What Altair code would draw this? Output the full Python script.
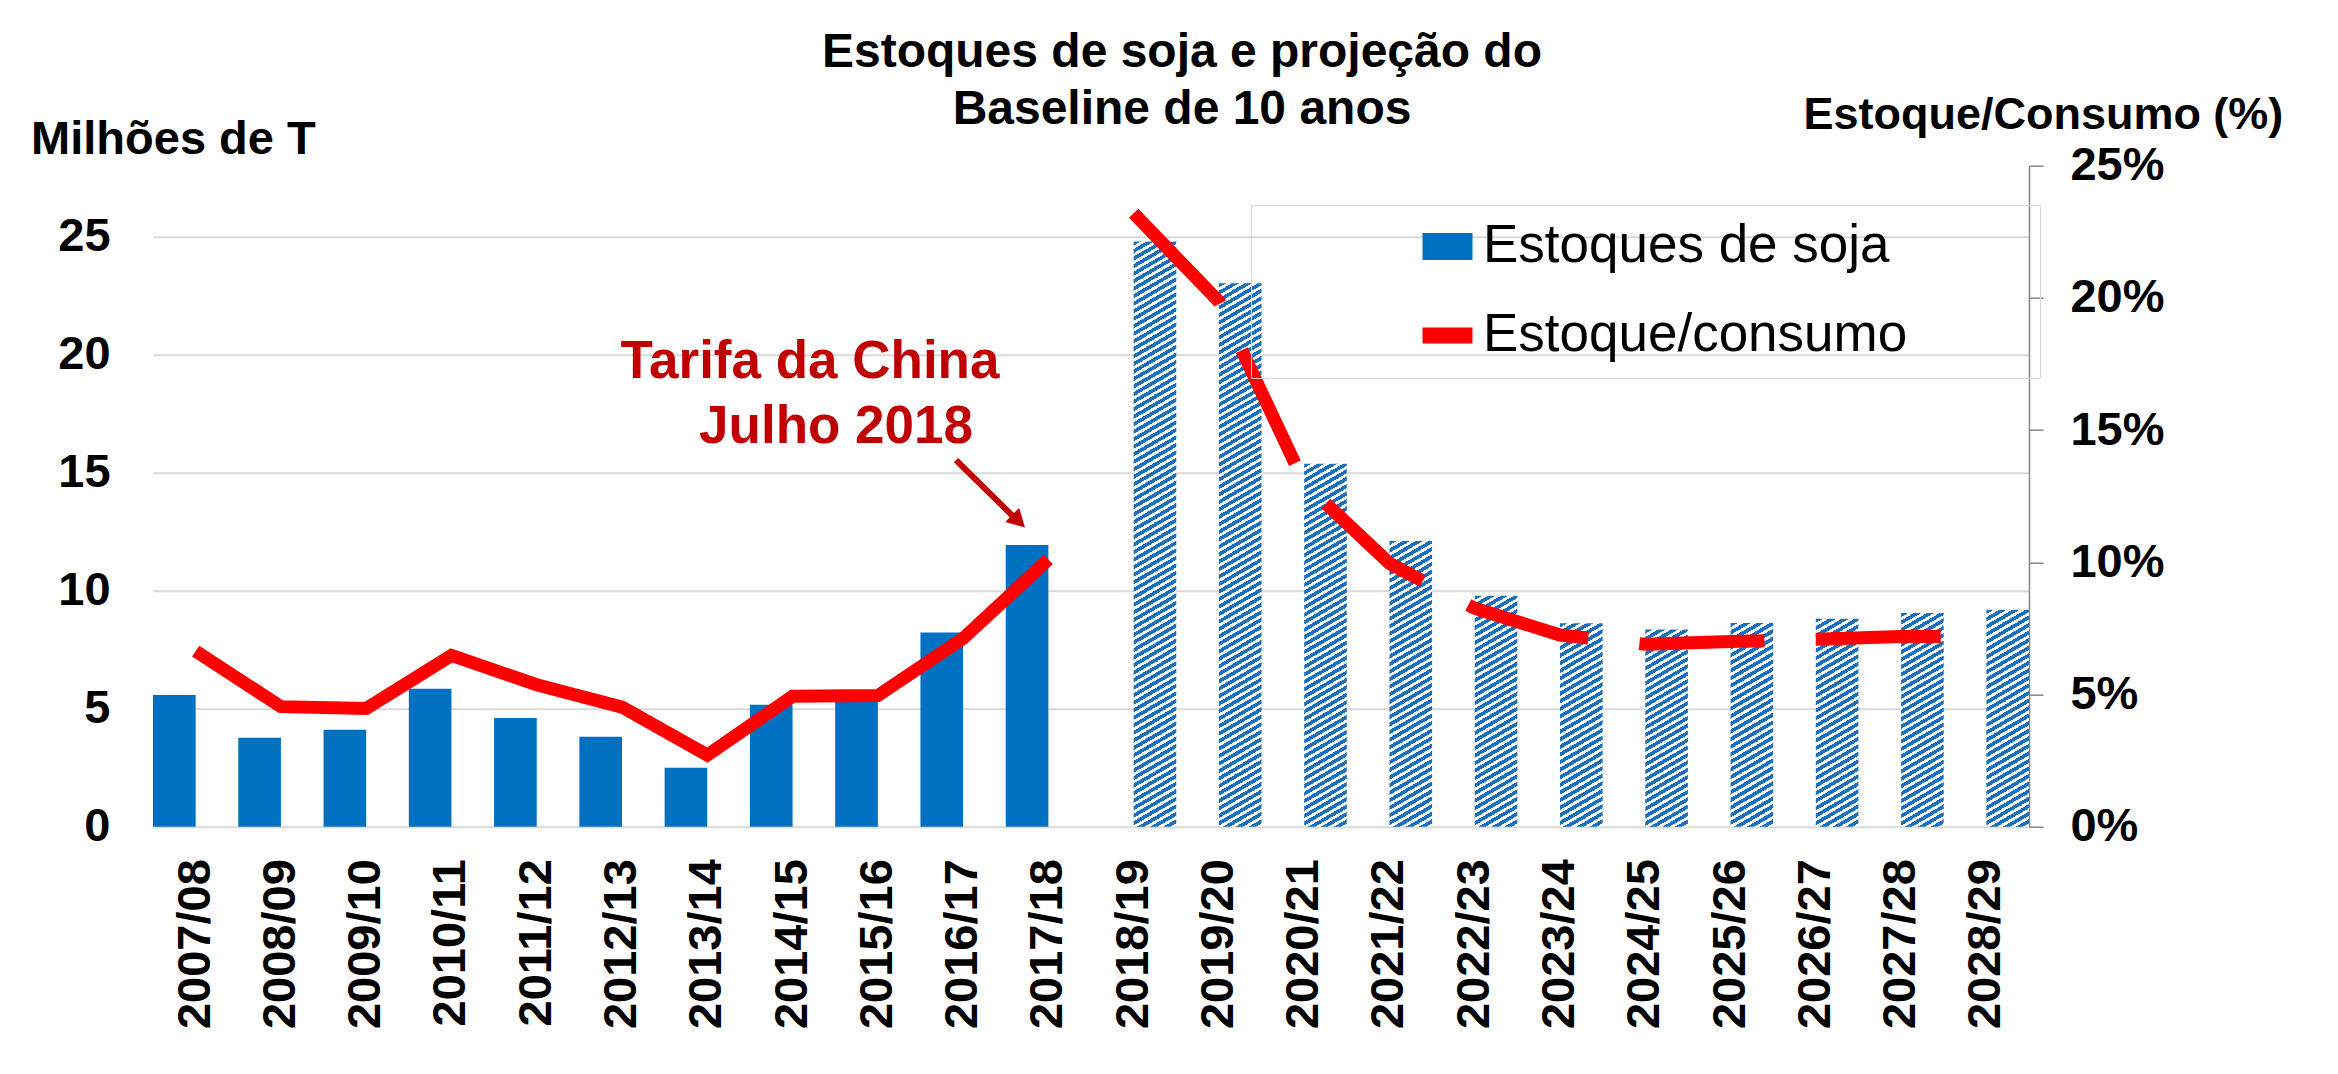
import math
import altair as alt
import pandas as pd

# ---------------- data ----------------
anos = ["2007/08", "2008/09", "2009/10", "2010/11", "2011/12", "2012/13", "2013/14",
        "2014/15", "2015/16", "2016/17", "2017/18", "2018/19", "2019/20", "2020/21",
        "2021/22", "2022/23", "2023/24", "2024/25", "2025/26", "2026/27", "2027/28",
        "2028/29"]
anos_hist = anos[:11]
anos_proj = anos[11:]

estoque_hist = [5.58, 3.77, 4.11, 5.84, 4.60, 3.81, 2.50, 5.17, 5.35, 8.23, 11.93]
estoque_proj = [24.79, 23.02, 15.37, 12.10, 9.78, 8.62, 8.35, 8.63, 8.81, 9.05, 9.19]

relacao_hist = [6.64, 4.54, 4.47, 6.48, 5.37, 4.52, 2.71, 4.93, 4.96, 7.12, 10.11]
relacao_proj = [23.2, 19.86, 13.0, 9.96, 8.26, 7.25, 6.9, 7.0, 7.09, 7.19, 7.2]

series = ["Estoques de soja", "Estoque/consumo"]

titulo = ["Estoques de soja e projeção do", "Baseline de 10 anos"]
nota_linhas = ["Tarifa da China", "Julho 2018"]
nota_x = [7.705, 8.01]          # category-index position of each annotation line centre
nota_y = [19.0, 16.25]          # left-axis units (baseline)
seta_x = [9.417, 10.08]         # arrow shaft start / end (category index)
seta_y = [15.53, 13.17]
ponta_x = [10.226]
ponta_y = [12.67]

# ---------------- layout constants ----------------
W, H = 1876, 661
YMAX = 28
FONT = "Liberation Sans"
BLUE = "#0070C0"
RED = "#FF0000"
DARKRED = "#C00000"

df_hist = pd.DataFrame({"ano": anos_hist, "tipo": "hist", "estoque": estoque_hist})
df_proj = pd.DataFrame({"ano": anos_proj, "tipo": "proj", "estoque": estoque_proj})
df_lh = pd.DataFrame({"ano": anos_hist, "rel": [v / 100 for v in relacao_hist]})
df_lp = pd.DataFrame({"ano": anos_proj, "rel": [v / 100 for v in relacao_proj]})
df_leg = pd.DataFrame({"serie": series})
df_nota = pd.DataFrame({"txt": nota_linhas, "xi": nota_x, "yv": nota_y})
df_seta = pd.DataFrame({"xi": [seta_x[0]], "xi2": [seta_x[1]], "yv": [seta_y[0]], "yv2": [seta_y[1]]})
df_ponta = pd.DataFrame({"xi": ponta_x, "yv": ponta_y})


def xscale():
    return alt.Scale(domain=anos, paddingInner=0, paddingOuter=0)


def xoff():
    return alt.XOffset("tipo:N", scale=alt.Scale(domain=["hist", "proj"], paddingInner=0, paddingOuter=0))


def yleft():
    return alt.Scale(domain=[0, YMAX], nice=False, zero=True)


def yright():
    return alt.Scale(domain=[0, 0.25], nice=False)


def xi_scale():
    return alt.Scale(domain=[0, len(anos)], nice=False, zero=False)


x_axis = alt.Axis(orient="bottom", title=None, labelAngle=270, ticks=False, domain=False, grid=False,
                  labelPadding=32, labelFontSize=47, labelFont=FONT, labelFontWeight="bold",
                  labelColor="black")
left_axis = alt.Axis(orient="left", values=[0, 5, 10, 15, 20, 25], grid=True, gridColor="#D9D9D9",
                     gridWidth=2, domain=False, ticks=False, labelPadding=43, labelFontSize=47,
                     labelFont=FONT, labelFontWeight="bold", labelColor="black",
                     title="Milhões de T", titleAngle=0, titleAlign="left", titleBaseline="alphabetic",
                     titleX=-122.4, titleY=-11.7, titleFontSize=47, titleFont=FONT,
                     titleFontWeight="bold", titleColor="black")
right_axis = alt.Axis(orient="right", values=[0, 0.05, 0.10, 0.15, 0.20, 0.25], format=".0%",
                      grid=False, domain=True, domainColor="#878787", domainWidth=1.5,
                      ticks=True, tickColor="#878787", tickWidth=1.5, tickSize=14, labelPadding=27,
                      labelFontSize=47, labelFont=FONT, labelFontWeight="bold", labelColor="black",
                      title="Estoque/Consumo (%)", titleAngle=0, titleAlign="left",
                      titleBaseline="alphabetic", titleX=-226, titleY=-37.4, titleFontSize=45,
                      titleFont=FONT, titleFontWeight="bold", titleColor="black")

# historic bars
bars_hist = alt.Chart(df_hist).mark_bar(color=BLUE).encode(
    x=alt.X("ano:N", sort=anos, scale=xscale(), axis=x_axis),
    xOffset=xoff(),
    y=alt.Y("estoque:Q", scale=yleft(), axis=left_axis),
)


def hatch(value, angle_deg=30.0, period=7.5, stripe="#1B70BE", bg="#F4FAFF", frac=0.55):
    h = value / YMAX * H
    w = W / len(anos) / 2
    a = math.tan(math.radians(angle_deg))
    k = (a * w + h) / ((a * w) ** 2 + h ** 2)
    n = max(1, round((a * w + h) / period))
    stops = []
    for i in range(n):
        t0, t1, t2 = i / n, (i + frac) / n, (i + 1) / n
        stops += [alt.GradientStop(offset=t0, color=stripe), alt.GradientStop(offset=t1, color=stripe),
                  alt.GradientStop(offset=t1, color=bg), alt.GradientStop(offset=t2, color=bg)]
    return alt.LinearGradient(gradient="linear", stops=stops, x1=0, y1=0, x2=k * a * w, y2=k * h)


proj_layers = []
for ano, val in zip(anos_proj, estoque_proj):
    proj_layers.append(
        alt.Chart(df_proj).transform_filter(alt.datum.ano == ano).mark_bar(fill=hatch(val)).encode(
            x=alt.X("ano:N", sort=anos, scale=xscale(), axis=None),
            xOffset=xoff(),
            y=alt.Y("estoque:Q", scale=yleft(), axis=None),
        )
    )

pad_r = "\u2800" * 3
leg_props = dict(title="\u00a0", titleOrient="left", titlePadding=155, titleFontSize=10,
                 orient="none", legendX=1098, legendY=39.3, padding=15, strokeColor="#D9D9D9",
                 symbolSize=2500, symbolStrokeWidth=0, symbolOpacity=1, labelFontSize=53,
                 labelFont=FONT, labelFontWeight="normal", labelColor="black", labelOffset=9,
                 rowPadding=35, labelLimit=0,
                 labelExpr="datum.label + '" + pad_r + "'")
legend_pts = alt.Chart(df_leg).transform_filter("false").mark_point(filled=True, opacity=1).encode(
    color=alt.Color("serie:N", scale=alt.Scale(domain=series, range=[BLUE, RED]),
                    legend=alt.Legend(**leg_props)),
    shape=alt.Shape("serie:N", scale=alt.Scale(domain=series,
                                               range=["M-1,-0.54H1V0.54H-1Z", "M-1,-0.32H1V0.32H-1Z"]),
                    legend=alt.Legend(**leg_props)),
)

line_hist = alt.Chart(df_lh).mark_line(color=RED, strokeWidth=13, strokeJoin="miter", strokeCap="butt").encode(
    x=alt.X("ano:N", sort=anos, scale=xscale(), axis=None),
    y=alt.Y("rel:Q", scale=yright(), axis=right_axis),
)
line_proj = alt.Chart(df_lp).mark_line(color=RED, strokeWidth=13, strokeDash=[125, 51.5],
                                       strokeJoin="miter", strokeCap="butt").encode(
    x=alt.X("ano:N", sort=anos, scale=xscale(), axis=None),
    y=alt.Y("rel:Q", scale=yright(), axis=None),
)

nota = alt.Chart(df_nota).mark_text(font=FONT, fontSize=53, fontWeight="bold", color=DARKRED,
                                    align="center", baseline="alphabetic").encode(
    x=alt.X("xi:Q", scale=xi_scale(), axis=None),
    y=alt.Y("yv:Q", scale=yleft(), axis=None),
    text="txt:N",
)
seta = alt.Chart(df_seta).mark_rule(color=DARKRED, strokeWidth=6, strokeCap="butt").encode(
    x=alt.X("xi:Q", scale=xi_scale(), axis=None), x2="xi2:Q",
    y=alt.Y("yv:Q", scale=yleft(), axis=None), y2="yv2:Q",
)
ponta = alt.Chart(df_ponta).mark_point(shape="M0,0L1.1,2L-1.1,2Z", size=324, filled=True,
                                       color=DARKRED, opacity=1, angle=134.6, strokeWidth=0).encode(
    x=alt.X("xi:Q", scale=xi_scale(), axis=None),
    y=alt.Y("yv:Q", scale=yleft(), axis=None),
)

chart = alt.layer(
    bars_hist, *proj_layers, line_hist, line_proj, legend_pts, seta, ponta, nota
).resolve_scale(x="independent", y="independent").properties(
    width=W, height=H,
    title=alt.TitleParams(text=titulo, font=FONT, fontSize=48, fontWeight="bold", color="black",
                          anchor="middle", dx=91, dy=42, lineHeight=57, offset=0),
    padding={"left": 145, "top": 157.7, "right": 301, "bottom": 239},
    autosize=alt.AutoSizeParams(type="none"),
    background="white",
).configure_view(strokeWidth=0)

chart.save("out.html", embed_options={"renderer": "svg", "actions": False})
